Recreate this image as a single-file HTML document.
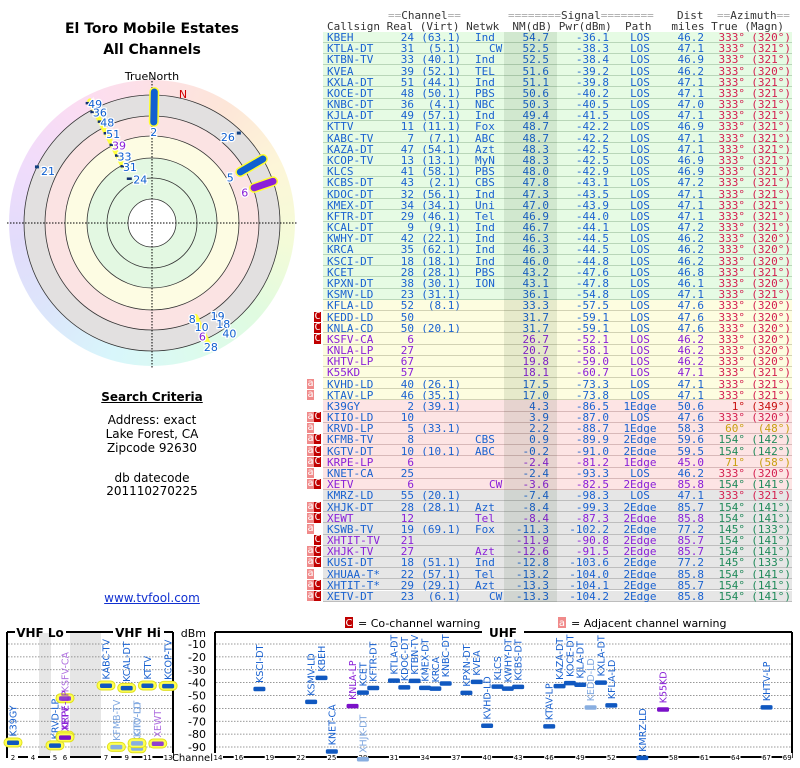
<!DOCTYPE html>
<html><head><meta charset="utf-8">
<style>
body{margin:0;width:800px;height:768px;background:#fff;position:relative;overflow:hidden;font-family:"DejaVu Sans","Liberation Sans",sans-serif;}
.abs{position:absolute;white-space:pre;}
.lt{font-size:12px;color:#000;text-align:center;width:304px;left:0;}
#tbl{position:absolute;left:0;top:0;width:800px;height:610px;font-family:"DejaVu Sans Mono","Liberation Mono",monospace;font-size:11px;}
.c{position:absolute;white-space:pre;line-height:11px;}
.badge{position:absolute;width:7px;height:10px;font-family:"DejaVu Sans Mono",monospace;font-size:10px;line-height:10px;text-align:center;color:#fff;}
</style></head><body>
<div class="abs lt" style="top:21px;font-size:14px;font-weight:bold;">El Toro Mobile Estates</div>
<div class="abs lt" style="top:42px;font-size:14px;font-weight:bold;">All Channels</div>
<div class="abs lt" style="top:390px;font-weight:bold;text-decoration:underline;">Search Criteria</div>
<div class="abs lt" style="top:413px;">Address: exact</div>
<div class="abs lt" style="top:427px;">Lake Forest, CA</div>
<div class="abs lt" style="top:441px;">Zipcode 92630</div>
<div class="abs lt" style="top:471px;">db datecode</div>
<div class="abs lt" style="top:484px;">201110270225</div>
<div class="abs lt" style="top:591px;color:#1030d0;text-decoration:underline;">www.tvfool.com</div>

<div id="rainbow" style="position:absolute;left:9px;top:80px;width:286px;height:286px;border-radius:50%;background:conic-gradient(#fde0e6,#fde6d8,#fdf6d8,#f4fbd8,#e0fbe0,#dcfbee,#d8f6fb,#dce6fb,#e2dcfb,#f0dcfb,#fbdcf2,#fde0e6);"></div>
<svg id="polar" width="310" height="380" style="position:absolute;left:0;top:0;"></svg>
<div id="tbl"></div>
<svg id="spec" width="800" height="160" style="position:absolute;left:0;top:608px;font-family:'DejaVu Sans',sans-serif;"></svg>

<script>
// ---------- Table data ----------
const callsigns=["KBEH","KTLA-DT","KTBN-TV","KVEA","KXLA-DT","KOCE-DT","KNBC-DT","KJLA-DT","KTTV","KABC-TV","KAZA-DT","KCOP-TV","KLCS","KCBS-DT","KDOC-DT","KMEX-DT","KFTR-DT","KCAL-DT","KWHY-DT","KRCA","KSCI-DT","KCET","KPXN-DT","KSMV-LD","KFLA-LD","KEDD-LD","KNLA-CD","KSFV-CA","KNLA-LP","KHTV-LP","K55KD","KVHD-LD","KTAV-LP","K39GY","KIIO-LD","KRVD-LP","KFMB-TV","KGTV-DT","KRPE-LP","KNET-CA","XETV","KMRZ-LD","XHJK-DT","XEWT","KSWB-TV","XHTIT-TV","XHJK-TV","KUSI-DT","XHUAA-T*","XHTIT-T*","XETV-DT"];
const realCh=[24,31,33,39,51,48,36,49,11,7,47,13,41,43,32,34,29,9,42,35,18,28,38,23,52,50,50,6,27,67,57,40,46,2,10,5,8,10,6,25,6,55,28,12,19,21,27,18,22,29,23];
const virtCh=["63.1","5.1","40.1","52.1","44.1","50.1","4.1","57.1","11.1","7.1","54.1","13.1","58.1","2.1","56.1","34.1","46.1","9.1","22.1","62.1","18.1","28.1","30.1","31.1","8.1","","20.1","","","","","26.1","35.1","39.1","","33.1","","10.1","","","","20.1","28.1","","69.1","","","51.1","57.1","29.1","6.1"];
const netwk=["Ind","CW","Ind","TEL","Ind","PBS","NBC","Ind","Fox","ABC","Azt","MyN","PBS","CBS","Ind","Uni","Tel","Ind","Ind","Ind","Ind","PBS","ION","","","","","","","","","","","","","","CBS","ABC","","","CW","","Azt","Tel","Fox","","Azt","Ind","Tel","Azt","CW"];
const nmDb=[54.7,52.5,52.5,51.6,51.1,50.6,50.3,49.4,48.7,48.7,48.3,48.3,48.0,47.8,47.3,47.0,46.9,46.7,46.3,46.3,46.0,43.2,43.1,36.1,33.3,31.7,31.7,26.7,20.7,19.8,18.1,17.5,17.0,4.3,3.9,2.2,0.9,-0.2,-2.4,-2.4,-3.6,-7.4,-8.4,-8.4,-11.3,-11.9,-12.6,-12.8,-13.2,-13.3,-13.3];
const pwrDbm=[-36.1,-38.3,-38.4,-39.2,-39.8,-40.2,-40.5,-41.5,-42.2,-42.2,-42.5,-42.5,-42.9,-43.1,-43.5,-43.9,-44.0,-44.1,-44.5,-44.5,-44.8,-47.6,-47.8,-54.8,-57.5,-59.1,-59.1,-52.1,-58.1,-59.0,-60.7,-73.3,-73.8,-86.5,-87.0,-88.7,-89.9,-91.0,-81.2,-93.3,-82.5,-98.3,-99.3,-87.3,-102.2,-90.8,-91.5,-103.6,-104.0,-104.1,-104.2];
const pathType=["LOS","LOS","LOS","LOS","LOS","LOS","LOS","LOS","LOS","LOS","LOS","LOS","LOS","LOS","LOS","LOS","LOS","LOS","LOS","LOS","LOS","LOS","LOS","LOS","LOS","LOS","LOS","LOS","LOS","LOS","LOS","LOS","LOS","1Edge","LOS","1Edge","2Edge","2Edge","1Edge","LOS","2Edge","LOS","2Edge","2Edge","2Edge","2Edge","2Edge","2Edge","2Edge","2Edge","2Edge"];
const distMi=[46.2,47.1,46.9,46.2,47.1,47.1,47.0,47.1,46.9,47.1,47.1,46.9,46.9,47.2,47.1,47.1,47.1,47.2,46.2,46.2,46.2,46.8,46.1,47.1,47.6,47.6,47.6,46.2,46.2,46.2,47.1,47.1,47.1,50.6,47.6,58.3,59.6,59.5,45.0,46.2,85.8,47.1,85.7,85.8,77.2,85.7,85.7,77.2,85.8,85.7,85.8];
const azTrue=[333,333,333,333,333,333,333,333,333,333,333,333,333,333,333,333,333,333,333,333,333,333,333,333,333,333,333,333,333,333,333,333,333,1,333,60,154,154,71,333,154,333,154,154,145,154,154,145,154,154,154];
const azMagn=[320,321,321,320,321,321,321,321,321,321,321,321,321,321,321,321,321,321,320,320,320,321,320,321,320,320,320,320,320,320,321,321,321,349,320,48,142,142,58,320,141,321,141,141,133,141,141,133,141,141,141];
const isLowPower=[0,0,0,0,0,0,0,0,0,0,0,0,0,0,0,0,0,0,0,0,0,0,0,0,0,0,0,1,1,1,1,0,0,0,0,0,0,0,1,0,1,0,0,1,0,1,1,0,0,0,0];
const warnAdj=[0,0,0,0,0,0,0,0,0,0,0,0,0,0,0,0,0,0,0,0,0,0,0,0,0,0,0,0,0,0,0,1,1,0,1,1,1,1,1,1,1,0,1,1,1,0,1,1,1,1,1];
const warnCo=[0,0,0,0,0,0,0,0,0,0,0,0,0,0,0,0,0,0,0,0,0,0,0,0,0,1,1,1,0,0,0,0,0,0,1,0,1,1,1,0,1,0,1,1,0,1,1,1,0,1,1];

const tbl=document.getElementById('tbl');
function cell(txt,left,right,top,color,name,extra){
  const d=document.createElement('div');d.className='c';d.textContent=txt;
  
  
  d.style.top=top+'px';d.style.color=color;
  if(right!==null){d.style.right=(800-right)+'px';}else{d.style.left=left+'px';}
  if(extra)Object.assign(d.style,extra);
  tbl.appendChild(d);return d;
}
const hc='#333';
function hdr(html,left,top,name){const d=document.createElement('div');d.className='c';d.innerHTML=html;d.style.left=left+'px';d.style.top=top+'px';d.style.color=hc;


tbl.appendChild(d);}
const E=s=>'<span style="color:#aaa">'+s+'</span>';
hdr(E('==')+'Channel'+E('=='),388,10,'channel-group-header');
hdr(E('========')+'Signal'+E('========'),508,10,'signal-group-header');
hdr('Dist',677,10,'dist-header');
hdr(E('==')+'Azimuth'+E('=='),717,10,'azimuth-group-header');
hdr('Callsign Real (Virt) Netwk  NM(dB) Pwr(dBm)  Path   miles True (Magn)',327,21,'column-headers');
const RH=11.18, R0=31.5;
const n=callsigns.length;
for(let i=0;i<n;i++){
  const top=R0+i*RH, ty=top+0.5;
  const nm=nmDb[i];
  const bg= nm>35?'#e6fbe4': nm>10?'#fdfde0': nm>-5?'#fde4e4':'#e6e6e6';
  const bd= nm>35?'#b9d6b9': nm>10?'#d2d2b4': nm>-5?'#d8b8b8':'#bdbdbd';
  const r=document.createElement('div');
  
  
  r.style.cssText='position:absolute;left:323px;width:469px;top:'+top+'px;height:'+(RH-1)+'px;background:'+bg+';border-bottom:1px solid '+bd;
  tbl.appendChild(r);
  const col = isLowPower[i]?'#8a20d8':'#1a62d0';
  cell(callsigns[i],327,null,ty,col,'callsign-cell');
  cell(String(realCh[i]),0,414,ty,col,'real-channel-cell');
  if(virtCh[i])cell('('+virtCh[i]+')',0,461,ty,col,'virtual-channel-cell');
  if(netwk[i])cell(netwk[i],netwk[i].length<3?489:475,null,ty,col,'network-cell');
  cell(nm.toFixed(1),0,549,ty,col,'nm-cell');
  cell(pwrDbm[i].toFixed(1),0,609,ty,col,'power-cell');
  cell(pathType[i],0,null,ty,col,'path-cell',{left:'614px',width:'52px',textAlign:'center'});
  cell(distMi[i].toFixed(1),0,704,ty,col,'distance-cell');
  const az=azTrue[i];
  const ac= az===333?'#d42050': az===1?'#c81010': (az===60||az===71)?'#c8a010':'#208a5a';
  cell(az+'°',0,745,ty,ac,'azimuth-true-cell');
  cell('('+azMagn[i]+'°)',0,791,ty,ac,'azimuth-magnetic-cell');
  if(warnAdj[i]){const b=document.createElement('div');b.className='badge';b.textContent='a';b.style.left='307px';b.style.top=(top+0.5)+'px';b.style.background='#f08a8a';
    
    
    tbl.appendChild(b);}
  if(warnCo[i]){const b=document.createElement('div');b.className='badge';b.textContent='C';b.style.left='314px';b.style.top=(top+0.5)+'px';b.style.background='#c00000';
    
    
    tbl.appendChild(b);}
}
const shade=document.createElement('div');


shade.style.cssText='position:absolute;left:504px;width:53px;top:'+R0+'px;height:'+(n*RH)+'px;background:rgba(0,40,0,0.09);';
tbl.appendChild(shade);

// ---------- Polar plot ----------
const NS='http://www.w3.org/2000/svg';
function el(p,tag,attrs){const e=document.createElementNS(NS,tag);for(const k in attrs)e.setAttribute(k,attrs[k]);p.appendChild(e);return e;}
const P=document.getElementById('polar');
const cx=152, cy=223;
const ringRadii=[128,107,87,65,24];
const ringFill=['#e2e0e0','#fbe3e3','#fdfce3','#e3f8e2','#ffffff'];
ringRadii.forEach((r,k)=>{const c=el(P,'circle',{cx:cx,cy:cy,r:r,fill:ringFill[k],stroke:'#333','stroke-width':0.8});

});
const c45=el(P,'circle',{cx:cx,cy:cy,r:45,fill:'none',stroke:'#333','stroke-width':0.8});


const ax1=el(P,'line',{x1:cx-145,y1:cy,x2:cx+145,y2:cy,stroke:'#000','stroke-dasharray':'1.5,1.5','stroke-width':1});


const ax2=el(P,'line',{x1:cx,y1:cy-145,x2:cx,y2:cy+145,stroke:'#000','stroke-dasharray':'1.5,1.5','stroke-width':1});


const tn=el(P,'text',{x:cx,y:80,'text-anchor':'middle','font-size':11,fill:'#000'});tn.textContent='TrueNorth';


const nn=el(P,'text',{x:183,y:98,'text-anchor':'middle','font-size':11,fill:'#d00000'});nn.textContent='N';



const segAz=[1,60,71,333,155];
const segR0=[101,102,108,63,103];
const segR1=[131,128,128,137,133];
const segCol=['#1060d0','#1060d0','#8a20d8','#ffff40','#ffff40'];
const segW=[7,7,7,5,5];
function pxy(az,r){const a=az*Math.PI/180;return [cx+r*Math.sin(a), cy-r*Math.cos(a)];}
segAz.forEach((az,k)=>{
  const [x0,y0]=pxy(az,segR0[k]),[x1,y1]=pxy(az,segR1[k]);
  if(segW[k]>5){const h=el(P,'line',{x1:x0,y1:y0,x2:x1,y2:y1,stroke:'#ffff30','stroke-width':segW[k]+3,'stroke-linecap':'round'});
    
    }
  const s=el(P,'line',{x1:x0,y1:y0,x2:x1,y2:y1,stroke:segCol[k],'stroke-width':segW[k],'stroke-linecap':'round'});
  
  
});
const plLabel=['2','5','6','26','21','49','36','48','51','39','33','31','24','8','10','6','28','19','18','40'];
const plAz=[1,60,71,44,296,332,332,333,333,333,333,333,333,156,155,155,155,146,146,146];
const plR=[97,99,106,125,128,136,126,114,101,88,76,64,50,105,115,125,137,112,122,133];
const plCol=['#1060d0','#1060d0','#8a20d8','#1060d0','#1060d0','#1060d0','#1060d0','#1060d0','#1060d0','#8a20d8','#1060d0','#1060d0','#1060d0','#1060d0','#1060d0','#8a20d8','#1060d0','#1060d0','#1060d0','#1060d0'];
plLabel.forEach((t,k)=>{
  const [x,y]=pxy(plAz[k],plR[k]);
  let dx=0,dy=0,anchor='middle';
  if(k===0){dy=10;} else if(k===1||k===2||k===3){dx=-4;dy=8;anchor='end';}
  else if(k===4){dx=4;dy=8;anchor='start';}
  else if(k>=5&&k<=12){dx=k===12?4:0;dy=5;anchor='start';}
  else if(k>=13&&k<=16){dx=-6;dy=4;anchor='start';}
  else {dx=-4;dy=4;anchor='start';}
  if(k===4||k===3||(k>=17)){const d=el(P,'rect',{x:x-2,y:y-1.5,width:4,height:3,fill:'#104080'});
    
    }
  if(k>=5&&k<=12){const d=el(P,'rect',{x:x-2.5,y:y-1,width:5,height:2.5,fill:'#103070'});
    
    }
  const tx=el(P,'text',{x:x+dx,y:y+dy,'text-anchor':anchor,'font-size':11,fill:plCol[k],stroke:'#fff','stroke-width':2.5,'paint-order':'stroke'});
  tx.textContent=t;
  
  
});

// ---------- Spectrum chart ----------
const vhfNames=["K39GY","KRVD-LP","KSFV-CA","KRPE-LP","XETV","KABC-TV","KFMB-TV","KCAL-DT","KGTV-DT","KIIO-LD","KTTV","XEWT","KCOP-TV"];
const vhfCh=[2,5,6,6,6,7,8,9,10,10,11,12,13];
const vhfPwr=[-86.5,-88.7,-52.1,-81.2,-82.5,-42.2,-89.9,-44.1,-91.0,-87.0,-42.2,-87.3,-42.5];
const vhfKind=["n","n","pl","p","p","n","f","n","f","f","n","pl","n"];
const uhfNames=["KSCI-DT","KSMV-LD","KBEH","KNET-CA","KNLA-LP","KCET","XHJK-DT","KFTR-DT","KTLA-DT","KDOC-DT","KTBN-TV","KMEX-DT","KRCA","KNBC-DT","KPXN-DT","KVEA","KVHD-LD","KLCS","KWHY-DT","KCBS-DT","KTAV-LP","KAZA-DT","KOCE-DT","KJLA-DT","KEDD-LD","KXLA-DT","KFLA-LD","KMRZ-LD","K55KD","KHTV-LP"];
const uhfCh=[18,23,24,25,27,28,28,29,31,32,33,34,35,36,38,39,40,41,42,43,46,47,48,49,50,51,52,55,57,67];
const uhfPwr=[-44.8,-54.8,-36.1,-93.3,-58.1,-47.6,-99.3,-44.0,-38.3,-43.5,-38.4,-43.9,-44.5,-40.5,-47.8,-39.2,-73.3,-42.9,-44.5,-43.1,-73.8,-42.5,-40.2,-41.5,-59.1,-39.8,-57.5,-98.3,-60.7,-59.0];
const uhfKind=["n","n","n","n","p","n","f","n","n","n","n","n","n","n","n","n","n","n","n","n","n","n","n","n","f","n","n","n","p","n"];
const dbmTicks=[-10,-20,-30,-40,-50,-60,-70,-80,-90];
const vhfTicks=[2,4,5,6,7,9,11,13];
const uhfTicks=[14,16,19,22,25,28,31,34,37,40,43,46,49,52,55,58,61,64,67,69];

const S=document.getElementById('spec');
const OY=608;
const yOf=d=>644-OY+(-10-d)*1.2875;
const xV=ch=> ch<=4?13+(ch-2)*10 : ch<=6?55+(ch-5)*10 : 106+(ch-7)*10.35;
const xU=ch=>218+(ch-14)*10.35;
const kindText={n:'#1a62d0',p:'#8a20d8',pl:'#b070e0',f:'#80a8e0'};
const kindBar={n:'#1058c0',p:'#7a10c8',pl:'#9040d0',f:'#88aee0'};

function lg(x,letter,bg,text,name){
  const r=el(S,'rect',{x:x,y:9,width:8,height:11,fill:bg});
  
  
  const l=el(S,'text',{x:x+4,y:18,'text-anchor':'middle','font-size':10,fill:'#fff'});l.textContent=letter;
  
  
  const t=el(S,'text',{x:x+13,y:19,'font-size':11,fill:'#000'});t.textContent=text;
  
  
}
lg(345,'C','#c00000','= Co-channel warning','cochannel-legend');
lg(558,'a','#f08a8a','= Adjacent channel warning','adjacent-legend');

[[39,51],[70,101]].forEach(b=>{const r=el(S,'rect',{x:b[0],y:25,width:b[1]-b[0],height:124,fill:'#e6e6e6'});

});
dbmTicks.forEach(d=>{
  const y=yOf(d);
  const g1=el(S,'line',{x1:8,x2:172,y1:y,y2:y,stroke:'#777','stroke-dasharray':'1.5,1.5','stroke-width':0.8});
  
  
  const g2=el(S,'line',{x1:216,x2:791,y1:y,y2:y,stroke:'#777','stroke-dasharray':'1.5,1.5','stroke-width':0.8});
  
  
  const t=el(S,'text',{x:206,y:y+4,'text-anchor':'end','font-size':11,fill:'#000'});t.textContent=d;
  
  
});
const dl=el(S,'text',{x:206,y:29,'text-anchor':'end','font-size':11,fill:'#000'});dl.textContent='dBm';



function frame(x0,x1,gaps,name){
  const top=24,bot=149;
  const p=el(S,'path',{d:'M'+x0+' '+top+' V'+bot+' H'+x1+' V'+top,fill:'none',stroke:'#000','stroke-width':2});
  
  
  let cur=x0;
  gaps.forEach(g=>{const l=el(S,'line',{x1:cur,x2:g[0],y1:top,y2:top,stroke:'#000','stroke-width':2});
    
    
    cur=g[1];});
  const l=el(S,'line',{x1:cur,x2:x1,y1:top,y2:top,stroke:'#000','stroke-width':2});
  
  
}
frame(7,173,[[15,66],[113,164]],'vhf');
frame(215,792,[[482,524]],'uhf');
[['VHF Lo',40,'bold'],['VHF Hi',138,'bold'],['UHF',503,'bold']].forEach(a=>{const t=el(S,'text',{x:a[1],y:29,'text-anchor':'middle','font-size':12,'font-weight':a[2],fill:'#000'});t.textContent=a[0];

});
function tick(x,label){
  const r=el(S,'rect',{x:x-5,y:145,width:10,height:8,fill:'#fff'});
  
  
  const t=el(S,'text',{x:x,y:152,'text-anchor':'middle','font-size':7,fill:'#000'});t.textContent=label;
  
  
}
vhfTicks.forEach(c=>tick(xV(c),c));
uhfTicks.forEach(c=>tick(xU(c),c));
const chb=el(S,'rect',{x:176,y:143,width:38,height:12,fill:'#fff'});


const chl=el(S,'text',{x:213,y:153,'text-anchor':'end','font-size':10,fill:'#000'});chl.textContent='Channel';



function mark(x,d,name,kind,halo){
  const y=yOf(d);
  if(halo){const h=el(S,'rect',{x:x-9,y:y-4.5,width:18,height:9,rx:4.5,fill:'#ffff50',stroke:'#e0e020'});
    
    }
  const b=el(S,'rect',{x:x-6,y:y-2,width:12,height:4.5,rx:1.5,fill:kindBar[kind]});
  
  
  const t=el(S,'text',{x:x+3.5,y:y-6,'font-size':9.5,fill:kindText[kind],transform:'rotate(-90 '+(x+3.5)+' '+(y-6)+')'});
  t.textContent=name;
  
  
}
vhfNames.forEach((nm,k)=>mark(xV(vhfCh[k]),vhfPwr[k],nm,vhfKind[k],true));
uhfNames.forEach((nm,k)=>mark(xU(uhfCh[k]),uhfPwr[k],nm,uhfKind[k],false));
</script>
</body></html>
